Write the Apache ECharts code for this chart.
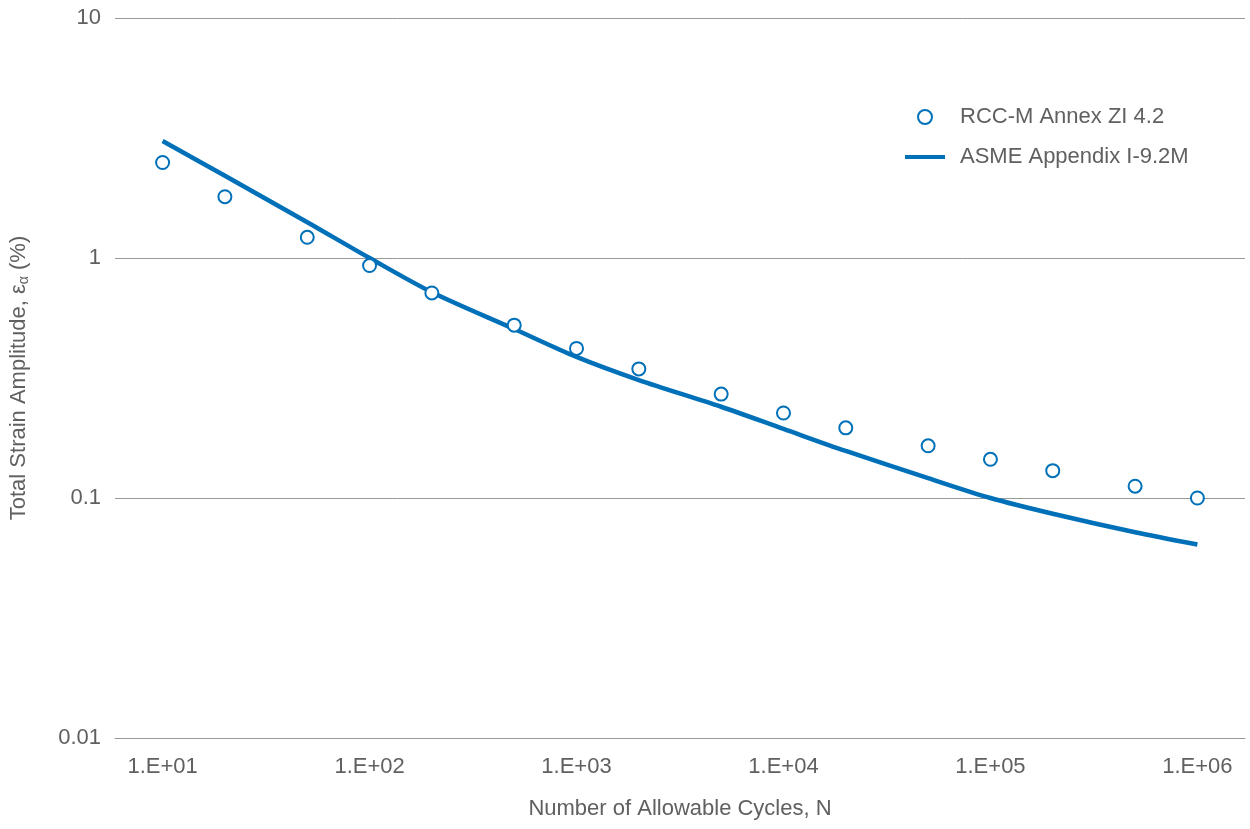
<!DOCTYPE html>
<html>
<head>
<meta charset="utf-8">
<script src="https://cdn.jsdelivr.net/npm/echarts@6/dist/echarts.min.js"></script>
<style>html,body{margin:0;padding:0;background:#fff}#c{width:1250px;height:829px}</style>
</head>
<body>
<div id="c"></div>
<script>
const cycles = [10, 20, 50, 100, 200, 500, 1000, 2000, 5000, 10000, 20000, 50000, 100000, 200000, 500000, 1000000];
const rccmValues = [2.5, 1.8, 1.22, 0.93, 0.715, 0.525, 0.42, 0.345, 0.271, 0.226, 0.196, 0.165, 0.145, 0.13, 0.112, 0.1];
const asmeValues = [3.07, 2.2, 1.41, 1.0, 0.72, 0.506, 0.387, 0.31, 0.24, 0.194, 0.157, 0.121, 0.1, 0.086, 0.072, 0.064];
const xTickExponents = [1, 2, 3, 4, 5, 6];
const seriesNames = ['RCC-M Annex ZI 4.2', 'ASME Appendix I-9.2M'];

const FONT = '"Liberation Sans", Arial, sans-serif';
const TXT = '#606060';
const BLUE = '#0070b8';
const FS = 22;

const chart = echarts.init(document.getElementById('c'), null, {renderer: 'canvas'});
chart.setOption({
  animation: false,
  backgroundColor: '#fff',
  textStyle: {fontFamily: FONT, color: TXT},
  grid: {left: 115, right: 5, top: 18, bottom: 91, containLabel: false},
  legend: {
    orient: 'vertical',
    left: 905, top: 106, padding: 0,
    itemWidth: 40, itemHeight: 14, itemGap: 18,
    itemStyle: {opacity: 1},
    textStyle: {fontFamily: FONT, fontSize: FS, lineHeight: 22, color: TXT, padding: [0, 0, 0, 10]},
    data: [
      {name: seriesNames[0], icon: 'emptyCircle'},
      {name: seriesNames[1], icon: 'path://M0 0H40V4H0Z'}
    ]
  },
  xAxis: {
    type: 'value',
    min: 0.77, max: 6.23,
    name: 'Number of Allowable Cycles, N',
    nameLocation: 'middle', nameGap: 60,
    nameTextStyle: {fontFamily: FONT, fontSize: FS, color: TXT},
    axisLine: {show: true, lineStyle: {color: '#999', width: 1}},
    axisTick: {show: false},
    splitLine: {show: false},
    axisLabel: {
      customValues: xTickExponents,
      margin: 18,
      fontFamily: FONT, fontSize: FS, color: TXT,
      formatter: v => '1.E+' + String(Math.round(v)).padStart(2, '0')
    }
  },
  yAxis: {
    type: 'log', logBase: 10, min: 0.01, max: 10,
    name: 'Total Strain Amplitude, ε{sub|α} (%)',
    nameLocation: 'middle', nameGap: 84,
    nameTextStyle: {fontFamily: FONT, fontSize: FS, color: TXT,
      rich: {sub: {fontFamily: FONT, fontSize: 14, color: TXT, verticalAlign: 'bottom', padding: [10, 0, 0, 0]}}},
    axisLine: {show: false},
    axisTick: {show: false},
    splitLine: {show: true, lineStyle: {color: '#999', width: 1}},
    axisLabel: {
      margin: 14,
      fontFamily: FONT, fontSize: FS, color: TXT,
      formatter: v => String(v)
    }
  },
  series: [
    {
      name: seriesNames[0],
      type: 'scatter',
      symbol: 'emptyCircle', symbolSize: 13,
      itemStyle: {color: BLUE, borderColor: BLUE, borderWidth: 2, opacity: 1},
      z: 3,
      data: cycles.map((n, i) => [Math.log10(n), rccmValues[i]])
    },
    {
      name: seriesNames[1],
      type: 'line',
      symbol: 'none', smooth: 0.3,
      lineStyle: {color: BLUE, width: 4.5},
      itemStyle: {color: BLUE},
      z: 2,
      data: cycles.map((n, i) => [Math.log10(n), asmeValues[i]])
    }
  ]
});
</script>
</body>
</html>
